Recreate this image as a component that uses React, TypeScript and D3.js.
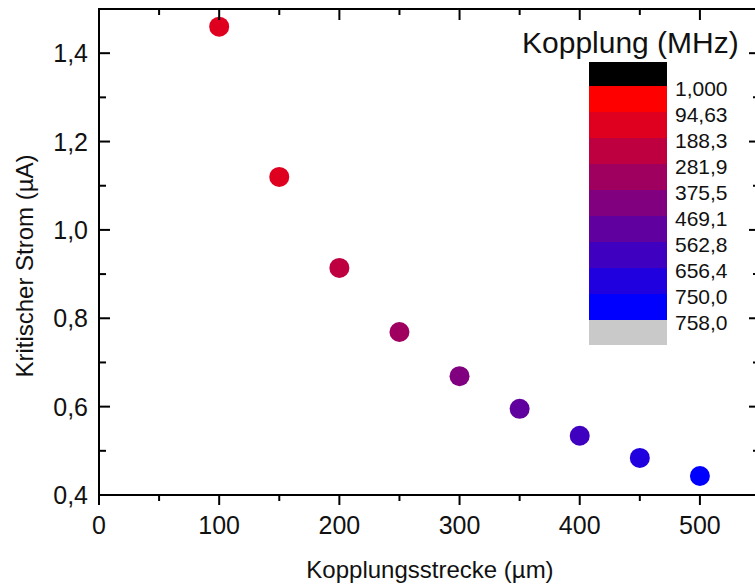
import React from "react";
import * as d3 from "d3";

// --- Data ---
const strecke = [100, 150, 200, 250, 300, 350, 400, 450, 500]; // µm
const strom = [1.46, 1.12, 0.914, 0.769, 0.669, 0.595, 0.534, 0.484, 0.443]; // µA
const kopplung = [120, 160, 240, 330, 420, 515, 620, 700, 755]; // MHz (colour value)

const levels = [1, 94.63, 188.3, 281.9, 375.5, 469.1, 562.8, 656.4, 750, 758];
const levelLabels = ["1,000", "94,63", "188,3", "281,9", "375,5", "469,1", "562,8", "656,4", "750,0", "758,0"];

const xMajor = [0, 100, 200, 300, 400, 500];
const xMinor = [50, 150, 250, 350, 450];
const yMajor = [0.4, 0.6, 0.8, 1.0, 1.2, 1.4];
const yMinor = [0.5, 0.7, 0.9, 1.1, 1.3];

const W = 755;
const H = 585;

const de = d3.formatLocale({ decimal: ",", thousands: ".", grouping: [3], currency: ["", "€"] });
const fmtY = de.format(".1f");

// band colours: red -> blue, one per interval between levels
const bandColors = d3.range(levels.length - 1).map((i) =>
  d3.interpolateRgb("#ff0000", "#0000ff")(i / (levels.length - 2))
);
const colorScale = d3.scaleThreshold<number, string>().domain(levels.slice(1, -1)).range(bandColors);

const FONT = "'Liberation Sans', Arial, sans-serif";

export default function App() {
  const x = d3.scaleLinear().domain([0, 550]).range([99, 760]);
  const y = d3.scaleLinear().domain([0.4, 1.5]).range([495, 9]);
  const [x0, x1] = x.range();
  const [yb, yt] = y.range();

  // legend geometry
  const legX = 589;
  const legW = 78;
  const legTop = 86;
  const band = 26;
  const legY = d3.scaleLinear().domain([0, levels.length - 1]).range([legTop, legTop + band * (levels.length - 1)]);

  return (
    <svg width={W} height={H} style={{ position: "absolute", left: 0, top: 0, background: "#fff" }} fontFamily={FONT}>
      {/* points */}
      {strecke.map((d, i) => (
        <circle key={i} cx={x(d)} cy={y(strom[i])} r={10} fill={colorScale(kopplung[i])} />
      ))}

      {/* frame */}
      <g stroke="#000" strokeWidth={2} fill="none">
        <line x1={x0} x2={x0} y1={yt - 1} y2={yb + 1} />
        <line x1={x0 - 1} x2={x1 + 1} y1={yb} y2={yb} />
        <line x1={x0 - 1} x2={x1 + 1} y1={yt} y2={yt} />
        <line x1={x1} x2={x1} y1={yt - 1} y2={yb + 1} />
      </g>

      {/* bottom ticks (outward) and top ticks (inward) */}
      <g stroke="#000" strokeWidth={2}>
        {xMajor.map((t) => (
          <g key={"xM" + t}>
            <line x1={x(t)} x2={x(t)} y1={yb} y2={yb + 10} />
            <line x1={x(t)} x2={x(t)} y1={yt} y2={yt + 11} />
          </g>
        ))}
        {xMinor.map((t) => (
          <g key={"xm" + t}>
            <line x1={x(t)} x2={x(t)} y1={yb} y2={yb + 6} />
            <line x1={x(t)} x2={x(t)} y1={yt} y2={yt + 6} />
          </g>
        ))}
        {yMajor.map((t) => (
          <g key={"yM" + t}>
            <line x1={x0} x2={x0 + 11} y1={y(t)} y2={y(t)} />
            <line x1={x1} x2={x1 - 11} y1={y(t)} y2={y(t)} />
          </g>
        ))}
        {yMinor.map((t) => (
          <g key={"ym" + t}>
            <line x1={x0} x2={x0 + 7} y1={y(t)} y2={y(t)} />
            <line x1={x1} x2={x1 - 7} y1={y(t)} y2={y(t)} />
          </g>
        ))}
      </g>

      {/* tick labels */}
      <g fontSize={25} fill="#111">
        {xMajor.map((t) => (
          <text key={"xl" + t} x={x(t)} y={534} textAnchor="middle">
            {t}
          </text>
        ))}
        {yMajor.map((t) => (
          <text key={"yl" + t} x={88} y={y(t)} dy="0.36em" textAnchor="end">
            {fmtY(t)}
          </text>
        ))}
      </g>

      {/* axis titles */}
      <text x={430} y={578} fontSize={24} textAnchor="middle" fill="#111">
        Kopplungsstrecke (µm)
      </text>
      <text transform={`translate(33,${266}) rotate(-90)`} fontSize={24} textAnchor="middle" fill="#111">
        Kritischer Strom (µA)
      </text>

      {/* colour legend */}
      <text x={522} y={53} fontSize={30} fill="#111">
        Kopplung (MHz)
      </text>
      <rect x={legX} y={62} width={legW} height={legTop - 62} fill="#000" />
      {bandColors.map((c, i) => (
        <rect key={"b" + i} x={legX} y={legY(i)} width={legW} height={band + 0.5} fill={c} />
      ))}
      <rect x={legX} y={legY(levels.length - 1)} width={legW} height={25} fill="#c9c9c9" />
      {levelLabels.map((l, i) => (
        <text key={"ll" + i} x={675} y={legY(i) + 2} dy="0.36em" fontSize={21} fill="#111">
          {l}
        </text>
      ))}
    </svg>
  );
}
